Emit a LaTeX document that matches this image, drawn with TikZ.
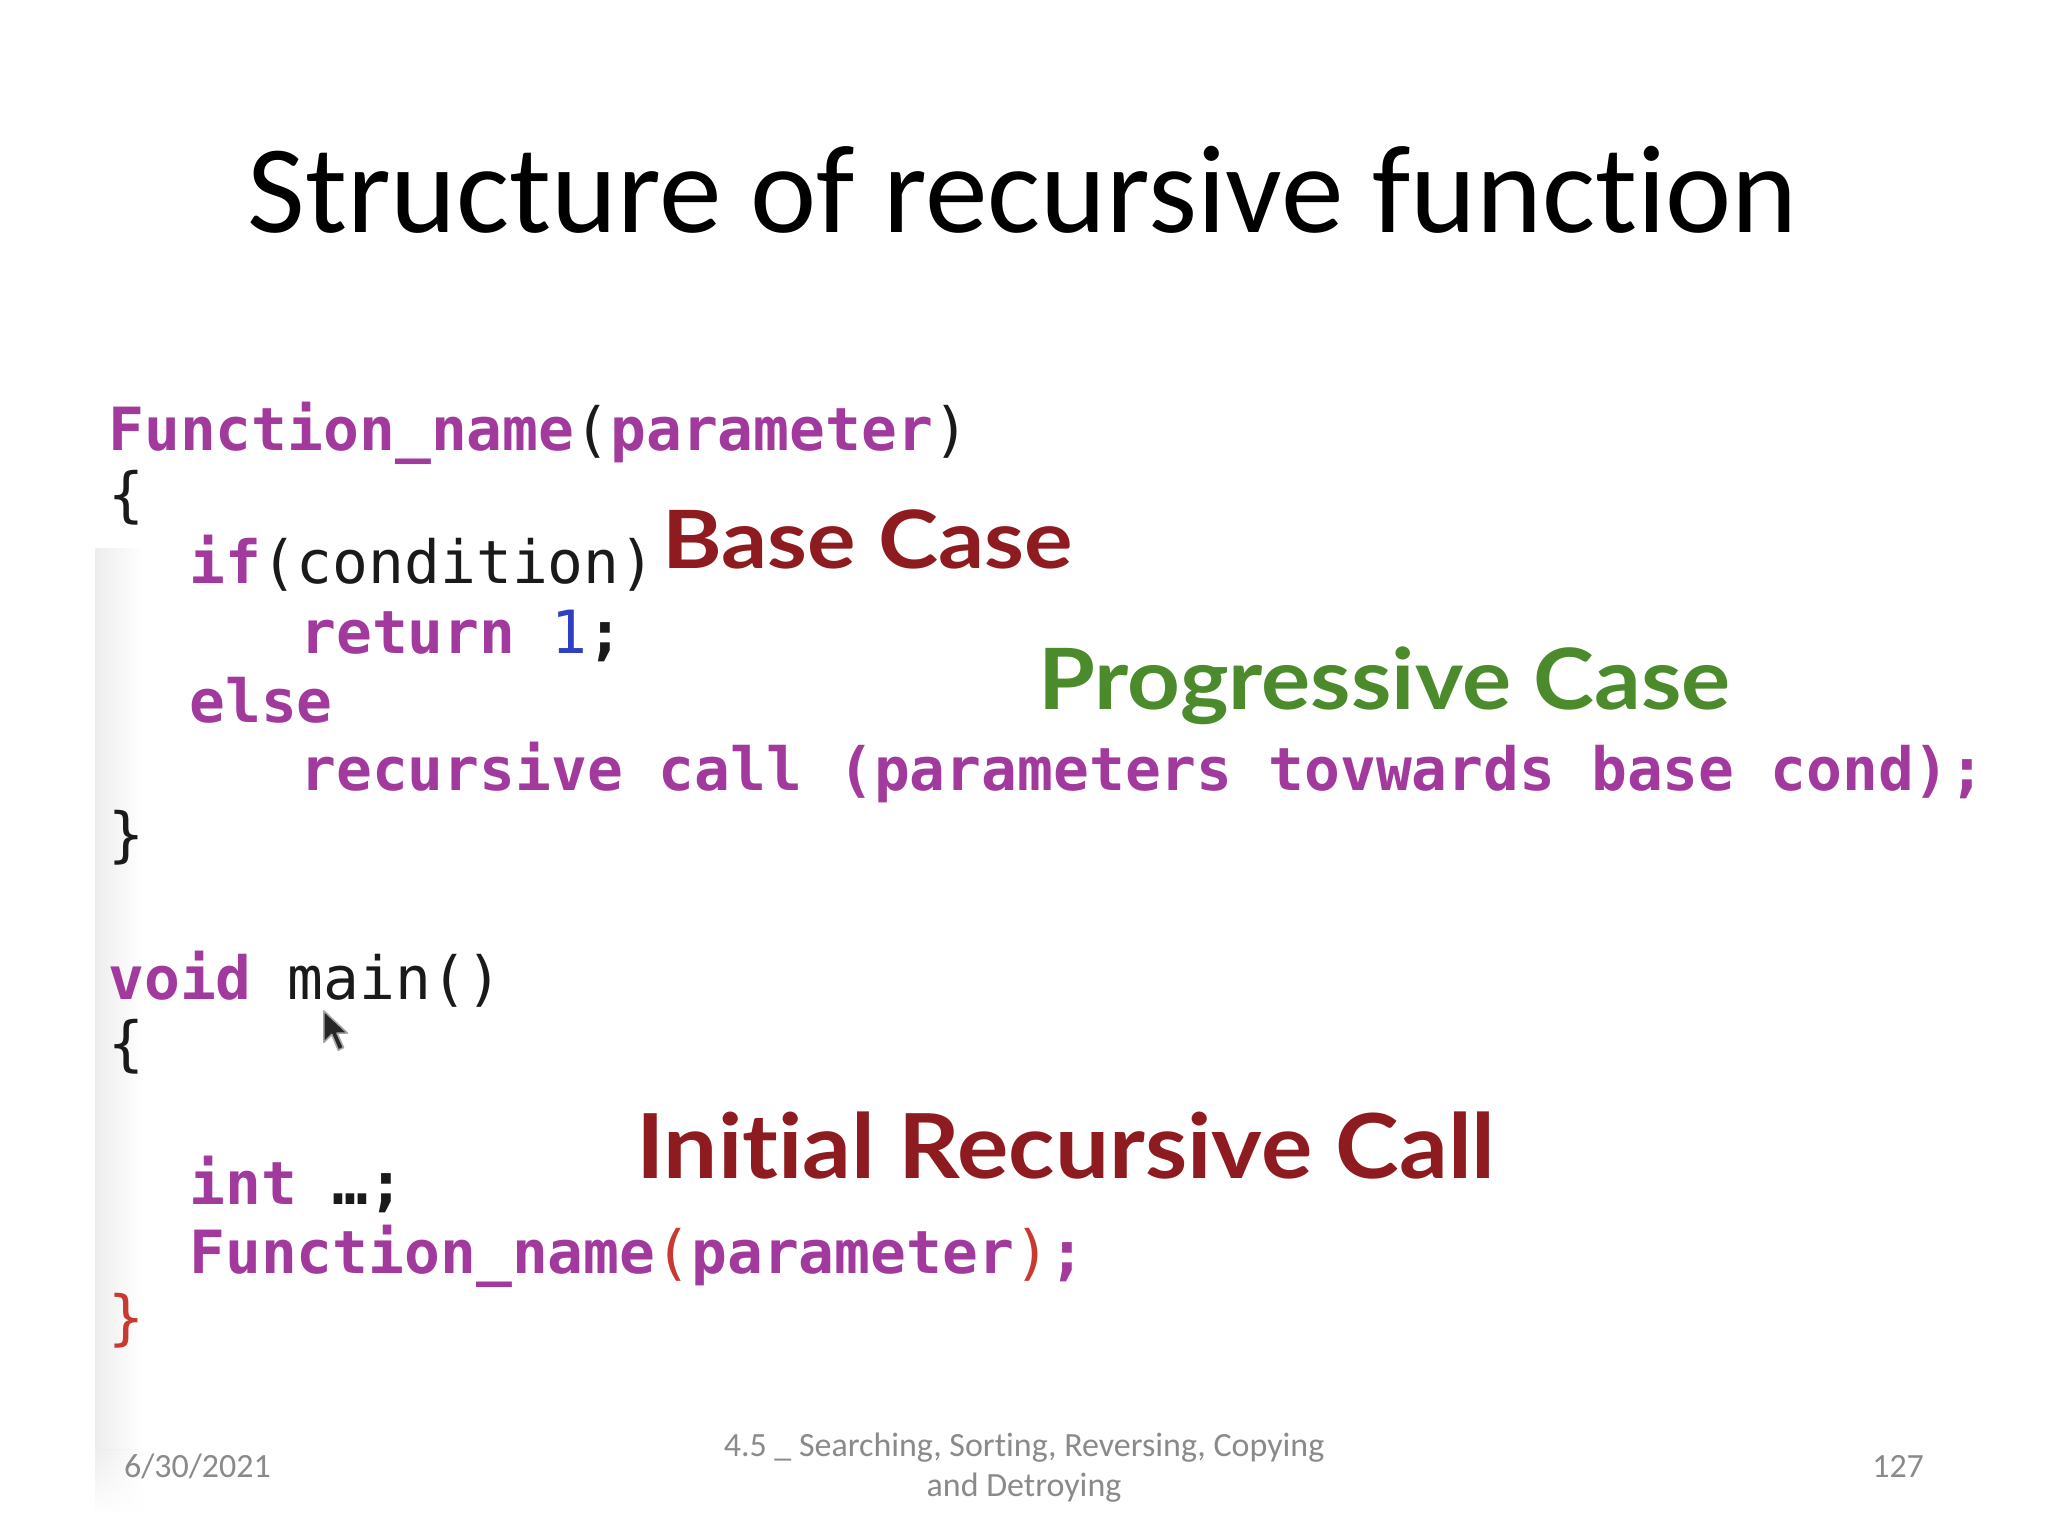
\documentclass[tikz,border=0pt]{standalone}
\usepackage{fontspec}
\setmainfont{Carlito}[Ligatures=NoCommon]
\newfontfamily\codefont{DejaVu Sans Mono}
\newfontfamily\annfont{Lato}[UprightFont=* Bold, Ligatures=NoCommon]
\usetikzlibrary{positioning,fadings}
\definecolor{cpurple}{HTML}{A23A9E}
\definecolor{cblack}{HTML}{1A1A1A}
\definecolor{cblue}{HTML}{2F3FC4}
\definecolor{cred}{HTML}{C8392F}
\definecolor{adred}{HTML}{8E1B1F}
\definecolor{agreen}{HTML}{4B8B2B}
\definecolor{footgray}{HTML}{8A8A8A}
\newcommand{\kw}[1]{\textcolor{cpurple}{\bfseries #1}}
\newcommand{\pl}[1]{\textcolor{cblack}{#1}}
\tikzset{
  codeline/.style={anchor=base west, inner sep=0pt, outer sep=0pt, font=\codefont\fontsize{22.8}{26}\selectfont},
  annot/.style={anchor=base west, inner sep=0pt, outer sep=0pt, font=\annfont},
  foot/.style={inner sep=0pt, outer sep=0pt, text=footgray, font=\fontsize{13}{15.5}\selectfont},
}
\begin{document}
\begin{tikzpicture}[x=0.5pt,y=-0.5pt]
\useasboundingbox (0,0) rectangle (1568,1176);
\fill[white] (0,0) rectangle (1568,1176);
% screenshot left shade
\shade[left color=black!7, right color=white] (73,420) rectangle (110,1110);
\shade[top color=black!7, bottom color=white, path fading=east] (73,1110) rectangle (110,1160);
% title
\node[anchor=base, inner sep=0pt, font=\fontsize{48}{58}\selectfont] (title) at (783,178) {Structure of recursive function};
% code block 1
\node[codeline] (l1) at (83,345) {\kw{Function\_name}\pl{(}\kw{parameter}\pl{)}};
\node[codeline] (l2) at (83,395) {\pl{\{}};
\node[codeline] (l3) at (145,447) {\kw{if}\pl{(condition)}};
\node[codeline] (l4) at (230,500) {\kw{return} \textcolor{cblue}{1}\pl{\bfseries ;}};
\node[codeline] (l5) at (145,553) {\kw{else}};
\node[codeline] (l6) at (230,605) {\kw{recursive call (parameters tovwards base cond);}};
\node[codeline] (l7) at (83,655) {\pl{\}}};
% code block 2
\node[codeline] (m1) at (83,765) {\kw{void} \pl{main()}};
\node[codeline] (m2) at (83,815) {\pl{\{}};
\node[codeline] (m3) at (145,922) {\kw{int} \pl{\bfseries …;}};
\node[codeline] (m4) at (145,975) {\kw{Function\_name}\textcolor{cred}{(}\kw{parameter}\textcolor{cred}{)}\kw{;}};
\node[codeline] (m5) at (83,1025) {\textcolor{cred}{\}}};
% mouse cursor
\fill[black!85, draw=black!35, line width=0.6pt, line join=round]
  (248,774) -- (248,798) -- (254,792) -- (259,804) -- (263,802) -- (258,791) -- (266,791) -- cycle;
% annotations
\node[annot, text=adred] (base) at (507,435) {\resizebox{157pt}{22.5pt}{Base Case}};
\node[annot, text=agreen] (prog) at (795,543) {\resizebox{265pt}{24pt}{Progressive Case}};
\node[annot, text=adred] (init) at (487,902) {\resizebox{329pt}{25.5pt}{Initial Recursive Call}};
% footer
\node[foot, anchor=base west] (date) at (95,1131) {6/30/2021};
\node[foot, anchor=base, align=center] (foottitle) at (784,1115) {4.5 \_ Searching, Sorting, Reversing, Copying};
\node[foot, anchor=base] (foottitle2) at (784,1146) {and Detroying};
\node[foot, anchor=base east] (page) at (1473,1131) {127};
\end{tikzpicture}
\end{document}
